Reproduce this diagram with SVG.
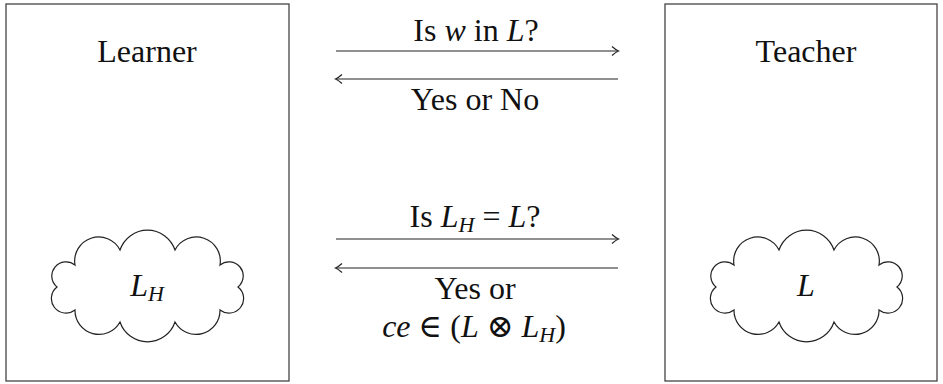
<svg xmlns="http://www.w3.org/2000/svg" width="943" height="384" viewBox="0 0 943 384">
<style>
.box{fill:#fff;stroke:#444;stroke-width:1.3}
.cloud{fill:#fff;stroke:#222;stroke-width:1.2}
.t{font-family:"Liberation Serif","DejaVu Serif",serif;font-size:32px;fill:#111;text-anchor:middle}
.i{font-style:italic}
.s{font-size:22px;font-style:italic}
.ln{stroke:#222;stroke-width:1.2;fill:none}
</style>
<defs>
<marker id="ah" markerUnits="userSpaceOnUse" markerWidth="12" markerHeight="12" viewBox="-8 -6 10 12" refX="0" refY="0" orient="auto">
<path d="M-6,-4.5 Q-2,-1 0.5,0 Q-2,1 -6,4.5" fill="none" stroke="#222" stroke-width="1.2"/>
</marker>
<path id="cloud" d="M-72,-22 A24 24 0 0 1 -27,-37 A29 29 0 0 1 28,-37 A24 24 0 0 1 73,-22 A14 14 0 0 1 91,0 A14 14 0 0 1 73,23 A24 24 0 0 1 28,35 A29 29 0 0 1 -27,35 A24 24 0 0 1 -72,23 A14 14 0 0 1 -90,0 A14 14 0 0 1 -72,-22 Z"/>
</defs>
<g id="learner">
<rect class="box" x="6" y="4" width="283" height="377"/>
<text class="t" x="147" y="62">Learner</text>
<use href="#cloud" class="cloud" transform="translate(147,287)"/>
<text class="t" x="147" y="296"><tspan class="i">L</tspan><tspan class="s" dy="5">H</tspan></text>
</g>
<g id="teacher">
<rect class="box" x="665" y="4" width="272" height="377"/>
<text class="t" x="806" y="62">Teacher</text>
<use href="#cloud" class="cloud" transform="translate(806,287)"/>
<text class="t" x="806" y="296"><tspan class="i">L</tspan></text>
</g>
<g id="connectors">
<line class="ln" x1="336" y1="51" x2="618" y2="51" marker-end="url(#ah)"/>
<line class="ln" x1="618" y1="79" x2="336" y2="79" marker-end="url(#ah)"/>
<line class="ln" x1="336" y1="239" x2="618" y2="239" marker-end="url(#ah)"/>
<line class="ln" x1="618" y1="268" x2="336" y2="268" marker-end="url(#ah)"/>
<text class="t" x="476" y="41">Is <tspan class="i">w</tspan> in <tspan class="i">L</tspan>?</text>
<text class="t" x="475" y="110">Yes or No</text>
<text class="t" x="475" y="227">Is <tspan class="i">L</tspan><tspan class="s" dy="5">H</tspan><tspan dy="-5"> = </tspan><tspan class="i">L</tspan>?</text>
<text class="t" x="475" y="299">Yes or</text>
<text class="t" x="474" y="337"><tspan class="i">ce</tspan> ∈ (<tspan class="i">L</tspan> ⊗ <tspan class="i">L</tspan><tspan class="s" dy="5">H</tspan><tspan dy="-5">)</tspan></text>
</g>
</svg>
